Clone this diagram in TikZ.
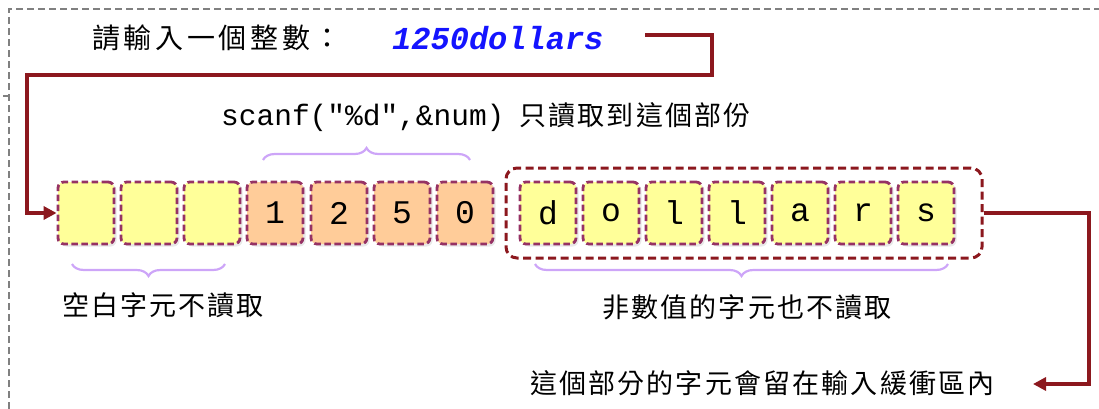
\documentclass[tikz,border=0pt]{standalone}
\usepackage{fontspec}
\usetikzlibrary{arrows.meta,shadows,fit,decorations.pathreplacing}
\newfontfamily\cjk[LetterSpace=8]{Noto Sans CJK TC}
\newfontfamily\cjkwide[LetterSpace=13]{Noto Sans CJK TC}
\newfontfamily\mono{Liberation Mono}
\definecolor{dred}{RGB}{140,24,30}
\definecolor{boxline}{RGB}{150,50,100}
\definecolor{yel}{RGB}{255,255,153}
\definecolor{ora}{RGB}{255,204,153}
\definecolor{lav}{RGB}{205,165,248}
\definecolor{inblue}{RGB}{20,20,255}
\tikzset{
  cell/.style={draw=boxline, dashed, dash pattern=on 6.5pt off 3.5pt, line width=2.8pt, rounded corners=6pt,
    minimum width=56pt, minimum height=62pt, inner sep=0pt, font=\mono\fontsize{33}{33}\selectfont,
    drop shadow={shadow xshift=2.5pt, shadow yshift=-2.5pt, fill=black!18}},
  ycell/.style={cell, fill=yel},
  ocell/.style={cell, fill=ora},
  redline/.style={draw=dred, line width=3.2pt},
  brc/.style={draw=lav, line width=2.2pt, decorate, decoration={brace, amplitude=12pt}},
  cjktext/.style={font=\cjk\fontsize{27}{27}\selectfont, inner sep=0pt},
  tip/.style={-{Triangle[length=13pt,width=13pt]}},
}
\begin{document}
\begin{tikzpicture}[x=1pt,y=-1pt]
\useasboundingbox (0,0) rectangle (1099,409);
% frame
\draw[gray, line width=1.2pt, dash pattern=on 7pt off 4pt] (9,409) -- (9,9) -- (1099,9);
\draw[gray, line width=1.2pt] (3,96) -- (9,96);
% title
\node[anchor=west, inner sep=0pt, font=\cjkwide\fontsize{28}{28}\selectfont] (prompt) at (92,38) {請輸入一個整數：};
\node[anchor=west, inner sep=0pt, text=inblue, font=\mono\bfseries\itshape\fontsize{32}{32}\selectfont] (input) at (392,38) {1250dollars};
\node[anchor=west, inner sep=0pt] (scanf) at (221,117) {{\mono\fontsize{29.5}{29.5}\selectfont scanf("\%d",\&num)}\hspace{15pt}{\cjk\fontsize{27}{27}\selectfont 只讀取到這個部份}};
% cells
\foreach \i/\x in {1/86,2/149,3/212} \node[ycell] (b\i) at (\x,213) {};
\node[ocell] (b4) at (275,213) {1};
\node[ocell] (b5) at (339,213) {2};
\node[ocell] (b6) at (402,213) {5};
\node[ocell] (b7) at (465,213) {0};
\foreach \i/\x/\c in {1/548/d,2/611/o,3/674/l,4/737/l,5/800/a,6/863/r,7/926/s}
  \node[ycell] (d\i) at (\x,213) {\c};
\node[draw=dred, dashed, dash pattern=on 8pt off 4.5pt, line width=3pt, rounded corners=11pt, inner sep=0pt,
  fit={(506,168) (982,258)}] (grp) {};
% braces
\draw[brc] (263,160) -- (470,160);
\draw[brc, decoration={mirror}] (72,264) -- (225,264);
\draw[brc, decoration={mirror}] (535,264) -- (948,264);
% labels
\node[cjktext] (lblank) at (163,305) {空白字元不讀取};
\node[cjktext] (lnum) at (747,307) {非數值的字元也不讀取};
\node[cjktext, anchor=west] (remain) at (530,383) {這個部分的字元會留在輸入緩衝區內};
% connectors
\coordinate (c1) at (712,35);
\coordinate (c2) at (712,75);
\coordinate (c3) at (27,75);
\coordinate (c4) at (27,213);
\draw[redline, tip] (645,35) -- (c1) -- (c2) -- (c3) -- (c4) -- (b1.west);
\coordinate (e1) at (1089,213);
\coordinate (e2) at (1089,384);
\draw[redline, tip] (grp.east) -- (e1) -- (e2) -- (1033,384);
\end{tikzpicture}
\end{document}
